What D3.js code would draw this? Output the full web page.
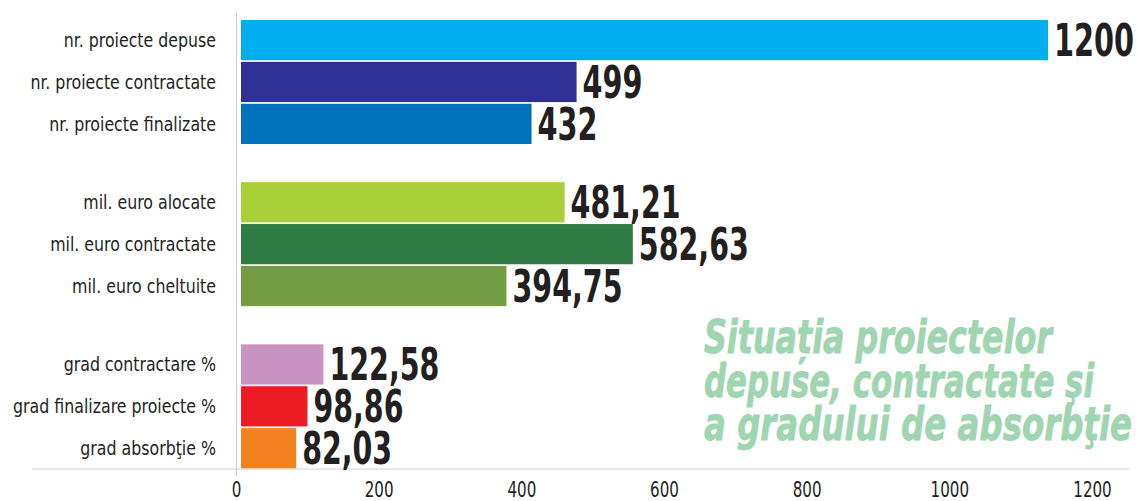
<!DOCTYPE html>
<html>
<head>
<meta charset="utf-8">
<script src="https://cdn.jsdelivr.net/npm/d3@7"></script>
<style>
  body { margin: 0; background: #fff; }
  svg text { font-family: "DejaVu Sans Condensed", "Liberation Sans Narrow", sans-serif; }
</style>
</head>
<body>
<svg id="chart" width="1138" height="501"></svg>
<script>
// chart values
const labels = [
  "nr. proiecte depuse", "nr. proiecte contractate", "nr. proiecte finalizate",
  "mil. euro alocate", "mil. euro contractate", "mil. euro cheltuite",
  "grad contractare %", "grad finalizare proiecte %", "grad absorbţie %"
];
const values = [1200, 499, 432, 481.21, 582.63, 394.75, 122.58, 98.86, 82.03];
const valueText = ["1200", "499", "432", "481,21", "582,63", "394,75", "122,58", "98,86", "82,03"];
const groups = [0, 0, 0, 1, 1, 1, 2, 2, 2];
const colors = ["#00aeef", "#2e3192", "#0071bc", "#a8cf38", "#317c45", "#739c43", "#c994c3", "#ed1c24", "#f58220"];
const tickValues = [0, 200, 400, 600, 800, 1000, 1200];
const titleLines = ["Situația proiectelor", "depuse, contractate şi", "a gradului de absorbţie"];

const svg = d3.select("#chart");

// squeeze a text horizontally, the original uses a condensed face
function squeeze(sel, k) {
  sel.each(function() {
    const w = this.getComputedTextLength();
    d3.select(this).attr("textLength", w * k).attr("lengthAdjust", "spacingAndGlyphs");
  });
}
// big numbers: ~20px per digit, ~10px per comma
const numWidth = s => s.replace(/[^0-9]/g, "").length * 20 + s.replace(/[0-9]/g, "").length * 10;

const x = d3.scaleLinear().domain([0, 1200]).range([241, 1048]);     // bars
const xAxisScale = d3.scaleLinear().domain([0, 1200]).range([236, 1092]); // printed axis
const groupGap = 36.5;
const y = d3.scaleBand().domain(labels).range([20, 20 + 9 * 41.7]).paddingInner(0.04).paddingOuter(0);
const yPos = (d, i) => y(d) + groups[i] * groupGap;

// baseline + vertical axis line
svg.append("line")
  .attr("x1", 32).attr("x2", 1130).attr("y1", 469).attr("y2", 469)
  .attr("stroke", "#d3d3d3").attr("stroke-width", 1.2);
svg.append("line")
  .attr("x1", 236.5).attr("x2", 236.5).attr("y1", 13).attr("y2", 476)
  .attr("stroke", "#cfcfcf").attr("stroke-width", 1.2);

// title
svg.append("g").selectAll("text")
  .data(titleLines)
  .join("text")
  .attr("x", 704)
  .attr("y", (d, i) => 353 + i * 43.5)
  .attr("font-size", 47)
  .attr("font-weight", "bold")
  .attr("font-style", "italic")
  .attr("fill", "#9fd5b1")
  .attr("stroke", "#9fd5b1")
  .attr("stroke-width", 0.8)
  .attr("textLength", (d, i) => [348, 390, 428][i])
  .attr("lengthAdjust", "spacingAndGlyphs")
  .text(d => d);

// bars
svg.append("g").selectAll("rect")
  .data(labels)
  .join("rect")
  .attr("x", x(0))
  .attr("y", yPos)
  .attr("width", (d, i) => x(values[i]) - x(0))
  .attr("height", y.bandwidth())
  .attr("fill", (d, i) => colors[i]);

// category labels
svg.append("g").selectAll("text")
  .data(labels)
  .join("text")
  .attr("x", 216)
  .attr("y", (d, i) => yPos(d, i) + y.bandwidth() / 2 + 7)
  .attr("text-anchor", "end")
  .attr("font-size", 19.5)
  .attr("fill", "#231f20")
  .text(d => d)
  .call(squeeze, 0.9);

// value labels
svg.append("g").selectAll("text")
  .data(labels)
  .join("text")
  .attr("x", (d, i) => x(values[i]) + 6)
  .attr("y", (d, i) => yPos(d, i) + y.bandwidth() / 2 + 16)
  .attr("font-size", 44)
  .attr("font-weight", "bold")
  .attr("fill", "#231f20")
  .attr("textLength", (d, i) => numWidth(valueText[i]))
  .attr("lengthAdjust", "spacingAndGlyphs")
  .text((d, i) => valueText[i]);

// axis
const axis = svg.append("g")
  .attr("transform", "translate(0,469)")
  .call(d3.axisBottom(xAxisScale).tickValues(tickValues).tickSize(0).tickPadding(13).tickFormat(d3.format("d")));
axis.select(".domain").remove();
axis.selectAll("text")
  .attr("font-size", 21)
  .attr("fill", "#231f20")
  .style("font-family", "'DejaVu Sans Condensed', sans-serif")
  .call(squeeze, 0.8);
</script>
</body>
</html>
